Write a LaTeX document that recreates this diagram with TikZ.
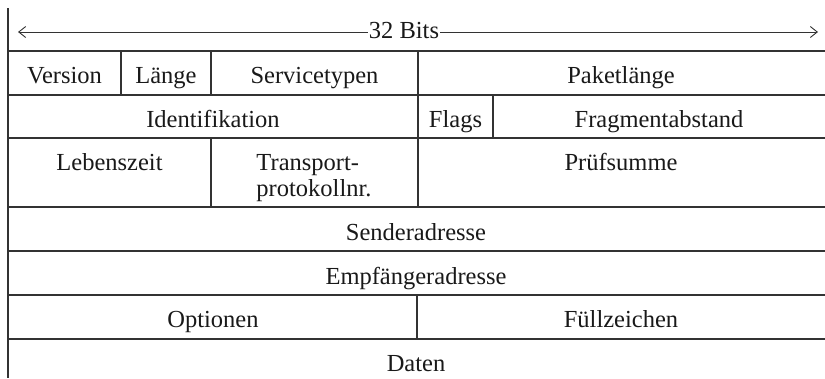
\documentclass[tikz,border=0pt]{standalone}
\usepackage{fontspec}
\setmainfont{Liberation Serif}
\usetikzlibrary{arrows.meta}
\begin{document}
\begin{tikzpicture}[x=1pt,y=-1pt,
  rule/.style={line width=1.1pt,draw=black!80},
  lbl/.style={inner sep=0pt,anchor=base,font=\fontsize{24.5}{26}\selectfont,text=black!90,align=center},
  dim/.style={line width=0.9pt,draw=black!80,-{Straight Barb[length=7pt,width=11pt]}}]
\useasboundingbox (0,0) rectangle (825,378);
% left border
\draw[rule] (8,8) -- (8,378);
% horizontal rules
\foreach \y in {51,95,138,207,251,295,339}
  \draw[rule] (8,\y) -- (825,\y);
% vertical rules
\draw[rule] (121,51) -- (121,95);
\draw[rule] (211,51) -- (211,95);
\draw[rule] (418,51) -- (418,95);
\draw[rule] (418,95) -- (418,138);
\draw[rule] (493,95) -- (493,138);
\draw[rule] (211,138) -- (211,207);
\draw[rule] (418,138) -- (418,207);
\draw[rule] (417,295) -- (417,339);
% 32 bits dimension
\node[lbl] (bits) at (404,38) {32 Bits};
\coordinate (la) at (18,32);
\coordinate (ra) at (818,32);
\draw[dim] ([xshift=-1pt]la -| bits.west) -- (la);
\draw[dim] ([xshift=1pt]ra -| bits.east) -- (ra);
% texts
\node[lbl] (version) at (64.5,83) {Version};
\node[lbl] (laenge) at (166,83) {Länge};
\node[lbl] (service) at (314.5,83) {Servicetypen};
\node[lbl] (paket) at (621,83) {Paketlänge};
\node[lbl] (ident) at (213,127) {Identifikation};
\node[lbl] (flags) at (455.5,127) {Flags};
\node[lbl] (frag) at (659,127) {Fragmentabstand};
\node[lbl] (leben) at (109.5,170) {Lebenszeit};
\node[lbl,align=left] (trans) at (314,196) {Transport-\\protokollnr.};
\node[lbl] (pruef) at (621,170) {Prüfsumme};
\node[lbl] (sender) at (416,240) {Senderadresse};
\node[lbl] (empf) at (416,284) {Empfängeradresse};
\node[lbl] (opt) at (213,327) {Optionen};
\node[lbl] (fuell) at (621,327) {Füllzeichen};
\node[lbl] (daten) at (416,371) {Daten};
\end{tikzpicture}
\end{document}
